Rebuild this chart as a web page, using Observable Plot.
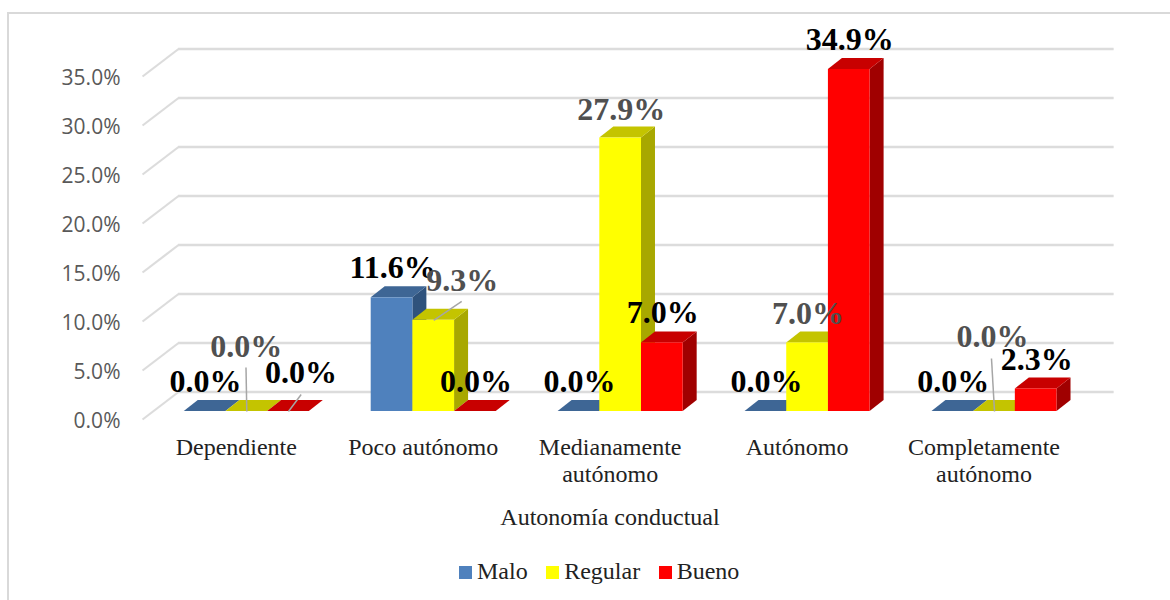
<!DOCTYPE html>
<html lang="es">
<head>
<meta charset="utf-8">
<script src="https://cdn.jsdelivr.net/npm/d3@7"></script>
<script src="https://cdn.jsdelivr.net/npm/@observablehq/plot@0.6"></script>
<style>
  html, body { margin: 0; padding: 0; background: #fff; }
  #page { position: relative; width: 1170px; height: 600px; overflow: hidden; font-family: "Liberation Serif", serif; color: #222; }
  #frame { position: absolute; left: 7px; top: 12px; right: -4px; bottom: -4px; border: 2px solid #d9d9d9; box-sizing: border-box; }
  #chart { position: absolute; left: 0; top: 0; }
  #chart svg { background: transparent; }
  #axis-title { position: absolute; left: 0; width: 1220px; top: 504px; text-align: center; font-size: 24px; line-height: 27px; }
  #legend { position: absolute; left: 459px; top: 558px; display: flex; font-size: 24px; line-height: 27px; }
  #legend .item { display: flex; align-items: center; margin-right: 18.5px; }
  #legend .sw { width: 13px; height: 13px; margin-right: 5px; position: relative; top: 1px; }
</style>
</head>
<body>
<div id="page">
  <div id="frame"></div>
  <div id="chart"></div>
  <div id="axis-title"></div>
  <div id="legend"></div>
</div>
<script>
// ---- data ----
const categories = ["Dependiente", "Poco autónomo", "Medianamente\nautónomo", "Autónomo", "Completamente\nautónomo"];
const seriesNames = ["Malo", "Regular", "Bueno"];
const malo = [0, 11.6, 0, 0, 0];
const regular = [0, 9.3, 27.9, 7.0, 0];
const bueno = [0, 0, 7.0, 34.9, 2.3];
const yTicks = [0, 5, 10, 15, 20, 25, 30, 35];
const xTitle = "Autonomía conductual";

// ---- styles ----
const frontColors = ["#4f81bd", "#ffff00", "#ff0000"];
const topColors = ["#3e6695", "#c4c400", "#c80000"];
const sideColors = ["#2f527c", "#a8a800", "#a00000"];
const labelColors = ["#000000", "#505050", "#000000"];

// ---- layout (scale units per pixel, 3-D depth, label nudges in pixels) ----
const pxPerGroup = 187, pxPerPercent = 9.8;
const barWidth = 41.7 / pxPerGroup;
const depth = {dx: 14, dy: 11};
const wall = {front: -104.3 / pxPerGroup, back: -68.3 / pxPerGroup, right: 867.7 / pxPerGroup, lift: 19.5 / pxPerPercent, drop: 8 / pxPerPercent};
// label nudge per series then category: [right, up] from the bar's top centre
const labelNudge = [
  [[0.5, 19.5], [0.5, 20], [0.5, 19.5], [0.5, 19.5], [0.5, 19.5]],
  [[-0.5, 55], [28.5, 30], [0.5, 18.5], [0.5, 19.5], [-2, 64.5]],
  [[12.5, 28.5], [0.5, 19.5], [0.5, 20], [0.5, 20], [0.5, 19.5]]
];
// leader lines: [series, category, tip right, tip up]
const leaders = [
  [1, 0, -0.8, 44],
  [2, 0, 12.7, 17],
  [1, 1, 28, 19],
  [1, 4, -3, 53]
];

const seriesValues = [malo, regular, bueno];
const rows = seriesNames.flatMap((name, s) => categories.map((c, i) => ({
  series: name, s, i, value: seriesValues[s][i], center: i + (s - 1) * barWidth
})));

function drawBars(index, scales, values) {
  const g = d3.create("svg:g");
  for (const k of index) {
    const x1 = values.x1[k], x2 = values.x2[k], yBase = values.y1[k], yTop = values.y2[k];
    const s = rows[k].s;
    const {dx, dy} = depth;
    g.append("polygon")
      .attr("points", [[x2, yBase], [x2, yTop], [x2 + dx, yTop - dy], [x2 + dx, yBase - dy]].join(" "))
      .attr("fill", sideColors[s]);
    g.append("polygon")
      .attr("points", [[x1, yTop], [x2, yTop], [x2 + dx, yTop - dy], [x1 + dx, yTop - dy]].join(" "))
      .attr("fill", topColors[s]);
    g.append("rect")
      .attr("x", x1).attr("y", yTop).attr("width", x2 - x1).attr("height", yBase - yTop)
      .attr("fill", values.fill[k]);
  }
  return g.node();
}

const serif = "'Liberation Serif', serif";
const plot = Plot.plot({
  width: 1170,
  height: 498,
  marginLeft: 120, marginRight: 0, marginTop: 0, marginBottom: 0,
  style: {background: "transparent", overflow: "visible"},
  x: {domain: [0, 4], range: [246.3, 994], axis: null},
  y: {domain: [0, 35], range: [411, 68], axis: null},
  color: {domain: seriesNames, range: frontColors},
  marks: [
    // back-wall gridlines and their side-wall returns
    Plot.ruleY(yTicks, {x1: wall.back, x2: wall.right, y: d => d + wall.lift, stroke: "#dcdcdc", strokeWidth: 2.4}),
    Plot.link(yTicks, {x1: wall.front, y1: d => d - wall.drop, x2: wall.back, y2: d => d + wall.lift, stroke: "#dcdcdc", strokeWidth: 2.2}),
    Plot.axisY(yTicks, {
      anchor: "left", tickSize: 0, tickPadding: 0, dy: 10, label: null,
      tickFormat: d => d.toFixed(1) + "%",
      fontSize: 21, fontFamily: "'Open Sans', sans-serif", fill: "#595959"
    }),
    Plot.rect(rows, {
      x1: d => d.center - barWidth / 2, x2: d => d.center + barWidth / 2,
      y1: () => 0, y2: d => d.value, fill: d => d.series, render: drawBars
    }),
    Plot.link(leaders, {
      x1: ([s, i]) => i + (s - 1) * barWidth,
      y1: ([s, i]) => seriesValues[s][i],
      x2: ([s, i, right]) => i + (s - 1) * barWidth + right / pxPerGroup,
      y2: ([s, i, , up]) => seriesValues[s][i] + up / pxPerPercent,
      stroke: "#a6a6a6", strokeWidth: 1.5
    }),
    Plot.text(rows, {
      x: d => d.center + labelNudge[d.s][d.i][0] / pxPerGroup,
      y: d => d.value + (labelNudge[d.s][d.i][1] + 10) / pxPerPercent,
      text: d => d.value.toFixed(1) + "%",
      fill: d => labelColors[d.s],
      fontSize: 32, fontWeight: "bold", fontFamily: serif
    }),
    Plot.text(categories, {
      x: (d, i) => i, y: () => 0, text: d => d,
      dx: -10.5, dy: 24, lineAnchor: "top", lineHeight: 1.14,
      fontSize: 24, fontFamily: serif, fill: "#222"
    })
  ]
});
document.getElementById("chart").append(plot);

document.getElementById("axis-title").textContent = xTitle;
const legend = d3.select("#legend");
seriesNames.forEach((name, s) => {
  const item = legend.append("div").attr("class", "item");
  item.append("span").attr("class", "sw").style("background", frontColors[s]);
  item.append("span").text(name);
});
</script>
</body>
</html>
